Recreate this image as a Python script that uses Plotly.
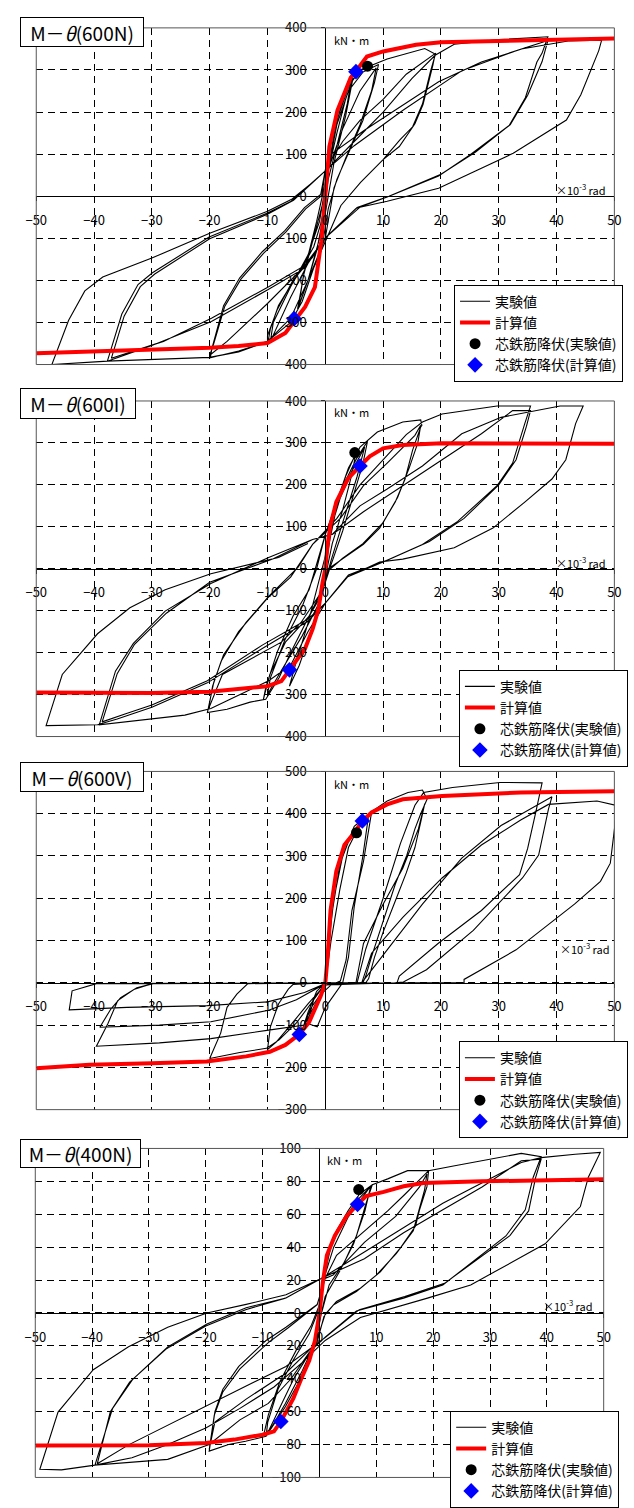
import plotly.graph_objects as go

W, H = 634, 1508
FONT = "Noto Sans CJK JP"

# ---------------- data ----------------
TITLES = ["M－<i>θ</i>(600N)", "M－<i>θ</i>(600I)", "M－<i>θ</i>(600V)", "M－<i>θ</i>(400N)"]
NAMES = ["実験値", "計算値", "芯鉄筋降伏(実験値)", "芯鉄筋降伏(計算値)"]
X_RANGE = (-50, 50)
X_DTICK = 10
Y_RANGES = [(-400, 400), (-400, 400), (-300, 500), (-100, 100)]
Y_DTICKS = [100, 100, 100, 20]

P1_EXP = [
    (0, 0), (0.5, 60), (1.5, 150), (3, 230), (4.6, 285),
    (3.8, 220), (2, 120), (0.5, 40), (-0.5, -60), (-1.5, -130), (-3, -200), (-4.6, -262),
    (-3.8, -190), (-2, -100), (-0.5, -20), (0.5, 60), (2, 150), (3.5, 230), (4.8, 282),
    (3.5, 190), (1.5, 80), (0, -40), (-1, -100), (-3, -200), (-4.8, -268),
    (-3.5, -170), (-1.5, -60), (0.3, 50),
    (2, 170), (4, 250), (6.5, 295), (9.2, 313),
    (8.5, 270), (6.5, 180), (4, 100), (2, 40), (0.5, -30), (-0.3, -99),
    (-2.2, -145), (-5.6, -200), (-8.3, -269), (-10, -331), (-10, -354),
    (-9.5, -315), (-8.1, -260), (-6.4, -221), (-4.2, -175), (-2, -120), (-0.8, -66), (-0.1, -22), (0.5, 63),
    (3, 160), (6, 250), (8.8, 305),
    (8, 250), (6, 170), (3.5, 90), (1.5, 20), (0, -99),
    (-3, -160), (-6, -240), (-9.5, -345),
    (-9, -300), (-6, -215), (-3, -140), (-1, -60), (0.5, 63),
    (2, 180), (4, 260), (6, 300), (10.7, 326), (17.2, 351), (19, 338),
    (18.6, 311), (16.9, 218), (15.5, 172), (12.8, 118), (10, 87), (6.1, 33), (2.7, -22), (0.5, -92),
    (-2, -170), (-4, -250), (-6, -300), (-10, -345), (-15, -368), (-19.9, -384),
    (-19.6, -361), (-17.6, -260), (-14.8, -194), (-10.9, -132), (-7, -82), (-3.6, -27), (-0.8, 4), (0, 63),
    (3, 130), (6, 180), (10, 230), (14, 290), (19.1, 340),
    (18.2, 297), (16.8, 219), (15.1, 165), (12.9, 134), (10, 87), (6.1, 33), (2.7, -22), (0.5, -92),
    (-3.6, -167), (-10, -255), (-17, -345), (-20, -378),
    (-19.4, -355), (-17.4, -262), (-14.6, -197), (-10.7, -136), (-6.8, -85), (-3.4, -30), (-0.6, 2), (0, 60),
    (5, 130), (10, 200), (15, 280), (19, 335), (22.3, 361), (30, 372), (38.5, 379),
    (37.5, 340), (36.6, 319), (34.6, 234), (31.8, 168), (25, 98), (19.6, 48), (10.7, -2), (5.3, -29), (0, -99),
    (-3, -200), (-6, -290), (-10, -345), (-15, -370), (-20, -383), (-30, -388), (-37.7, -392),
    (-35.2, -280), (-32.4, -210), (-29.9, -182), (-20.1, -97), (-10, -40), (-5.9, -12), (0, 60),
    (1.2, 102), (6.7, 156), (13.5, 218), (19.6, 272), (27, 319), (38.5, 370),
    (37.5, 320), (35, 240), (32, 170), (26, 105), (20, 52), (11, 0), (5.5, -27), (0, -99),
    (-3.6, -165), (-9.8, -215), (-19.7, -290), (-28, -345), (-37, -385),
    (-34.8, -285), (-32, -215), (-29.5, -185), (-20, -101), (-10, -43), (-5.5, -10), (0, 60),
    (5, 120), (13.5, 205), (23.7, 299), (33.9, 350), (42, 369), (47.8, 371),
    (47.3, 346), (44.2, 241), (41.7, 181), (32.5, 102), (19.6, 19), (10.7, -12), (6, -26), (0, -99),
    (-3.6, -171), (-9.8, -221), (-19.7, -298), (-30, -355), (-37.7, -392), (-47.3, -400),
    (-44.4, -295), (-41.6, -225), (-38.5, -192), (-30, -147), (-20, -88), (-10, -36), (-5.9, -8), (-4.5, 8), (-2, 35),
]
P1_CALC = [
    (-50, -373), (-40, -369), (-30, -365), (-20, -360), (-15, -356), (-10, -349), (-6.9, -325),
    (-5.2, -294), (-3.5, -263), (-1.8, -216), (-0.7, -107), (0, 0), (0.7, 118), (2.1, 204),
    (4.4, 282), (5.3, 297), (7.2, 332), (10, 344), (15.7, 360), (20, 366), (34, 371), (50, 375),
]
P1_YIELD_EXP = [(7.3, 309)]
P1_YIELD_CALC = [(5.3, 296), (-5.4, -291)]

P2_EXP = [
    (0, 0), (0.8, 70), (2, 150), (3.5, 220), (5.3, 276),
    (4.5, 220), (3, 140), (1.2, 60), (0, -20), (-1, -80), (-2.5, -150), (-4.5, -230), (-6.2, -280),
    (-5, -220), (-3, -130), (-1.5, -50), (0, 30), (1.5, 120), (3.5, 210), (5.5, 265), (7.3, 304),
    (6.5, 250), (5, 180), (3, 90), (1, 10), (-0.8, -66), (-2.8, -113), (-6.9, -175), (-9.6, -252), (-10.7, -311),
    (-10.3, -283), (-8.3, -198), (-5.6, -113), (-2.8, -50), (-1.5, 12), (0, 82),
    (2, 150), (4.5, 230), (6.8, 290),
    (5.5, 220), (3, 110), (1, 20), (-1, -80), (-4, -160), (-7.5, -240), (-10, -300),
    (-9.5, -260), (-7, -170), (-4, -90), (-1.5, 0), (0, 82),
    (2, 160), (4, 240), (6, 290), (9, 326), (13.4, 350), (16.5, 355), (16.7, 342),
    (16.5, 338), (15.1, 283), (13.8, 214), (12.1, 159), (9.4, 97), (6.6, 58), (3.3, 27), (0.5, 0), (-0.8, -58),
    (-2.8, -113), (-6, -200), (-8, -260), (-10.3, -311), (-13, -318), (-17, -335), (-20.4, -343),
    (-19.3, -271), (-17.6, -205), (-13.7, -128), (-9.8, -66), (-4.7, 4), (-2.2, 58),
    (2.6, 120), (6.6, 198), (10.7, 252), (15.5, 318), (16.5, 342),
    (16, 300), (14.5, 240), (12.5, 170), (10, 110), (6.5, 60), (3, 25), (0.5, -5), (-0.8, -58),
    (-4.2, -128), (-7.6, -175), (-13.7, -221), (-17.8, -252), (-20.2, -334),
    (-19.5, -280), (-18, -220), (-15, -150), (-10, -70), (-6, -20), (-2.2, 58),
    (2, 120), (6, 200), (10, 260), (14, 320), (16.8, 350), (20.2, 369), (29.7, 388), (35.5, 388),
    (34.5, 346), (32.4, 252), (29.7, 198), (22.9, 113), (16.8, 58), (10, 16), (3.9, -19), (0, -82),
    (-3, -150), (-6, -230), (-9.8, -267), (-19.8, -333), (-24.3, -349), (-39.1, -372),
    (-36.3, -244), (-33.2, -178), (-27.7, -101), (-19.8, -35), (-9.8, 27), (-2.2, 70),
    (1.2, 82), (6.6, 136), (13.4, 198), (20.2, 260), (27, 322), (32.4, 377), (35.5, 377),
    (34.8, 340), (33, 260), (30, 200), (24, 120), (18, 65), (11, 22), (4, -15), (0, -82),
    (-3, -120), (-10.9, -182), (-20.4, -267), (-30, -325), (-34.4, -345), (-38.6, -365),
    (-36, -250), (-33, -180), (-27.5, -106), (-20, -32), (-9, 24), (-2.2, 70),
    (1.2, 82), (6, 150), (10.7, 190), (16.8, 245), (23.6, 322), (30.4, 361), (40.6, 388), (44.6, 388),
    (43.3, 346), (41.6, 260), (39.2, 214), (34.5, 159), (29, 97), (22.3, 50), (13.4, 23), (9.4, 16), (3.9, -19), (0, -82),
    (-3, -125), (-10.9, -190), (-20.4, -272), (-30, -330), (-36, -358), (-39.4, -372), (-48.3, -374),
    (-45.5, -252), (-39.4, -155), (-33.8, -93), (-27.7, -50), (-19.8, -12), (-8.1, 27), (-3, 60),
]
P2_CALC = [
    (-50, -295), (-40, -296), (-30, -296), (-20, -293), (-10, -280), (-7.6, -268), (-6.2, -241),
    (-3.5, -190), (-2.2, -144), (-1.2, -97), (-0.5, -35), (0, 0), (0.4, 58), (0.9, 105), (1.9, 159),
    (3.9, 214), (6, 245), (7.7, 268), (10, 287), (13.4, 295), (20.2, 299), (35, 298), (50, 298),
]
P2_YIELD_EXP = [(5.1, 277)]
P2_YIELD_CALC = [(6, 245), (-6.2, -241)]

P3_EXP = [
    (0, 0), (0.5, 80), (1.5, 200), (3, 300), (5, 370), (8, 403),
    (6.6, 287), (4.6, 171), (3.6, 54), (2.6, 4), (1, -5), (-1, -30), (-2.5, -60), (-3.9, -108),
    (-3, -70), (-1.5, -20), (0, 0),
    (1, 100), (2.5, 220), (4, 320), (6, 375), (7.5, 398),
    (6.5, 300), (5, 180), (4, 60), (3, 0), (0, -58), (-1.4, -104), (-3.1, -96), (-2, -40), (0, 0),
    (1, 150), (2.5, 280), (5, 370), (8, 405), (10.7, 430), (14.3, 450), (16.8, 456), (17.6, 434),
    (16.5, 400), (15.5, 364), (14.1, 302), (12.1, 233), (9.4, 124), (8, 62), (7, 16), (6.5, 0),
    (0, -4), (-3, -50), (-6, -100), (-8.5, -140), (-10, -158),
    (-9.5, -104), (-8.1, -50), (-6.4, -15), (-5.6, -4), (0, 0), (5.3, 0),
    (6.6, 93), (10, 186), (13.4, 271), (16.1, 364), (17.2, 424),
    (16.5, 380), (15.5, 320), (14, 260), (12, 190), (10, 120), (8.5, 60), (7.5, 10), (7, 0),
    (0, -2), (-2, -40), (-5, -95), (-8, -135), (-10.2, -155), (-14.8, -165), (-20, -179),
    (-18.1, -119), (-17, -58), (-15.3, -27), (-13.4, -2), (0, 0), (5.5, 0),
    (7, 80), (10, 200), (13, 330), (15.5, 420), (17, 450), (22, 462), (30.2, 474), (37.5, 473),
    (36.4, 403), (35, 318), (33.6, 256), (27, 171), (19.5, 93), (12.8, 16), (12.4, 0),
    (0, -2), (-5, -40), (-9.8, -65), (-19.8, -92), (-28.7, -100), (-39, -105),
    (-37.1, -62), (-35.4, -35), (-32.6, -12), (-29.8, -2), (-15, -1), (0, 0), (6.3, 0),
    (8, 30), (10.7, 78), (16.8, 186), (23.6, 295), (30.4, 372), (39.2, 440),
    (38.6, 411), (36.9, 302), (34.1, 248), (25.6, 124), (17.5, 31), (13.5, 2), (12, 0),
    (0, -5), (-3.6, -100), (-9.8, -112), (-19.8, -132), (-28.7, -142), (-39.6, -150),
    (-37.6, -96), (-35.9, -42), (-33, -15), (-30, -2), (0, 0), (6.3, 0),
    (8, 70), (13.4, 155), (20.2, 248), (27, 326), (33.8, 385), (38.6, 422), (47, 430), (50.5, 419),
    (49.3, 283), (47.6, 240), (43.1, 186), (33, 78), (24, 8), (24, 0), (12, 0),
    (0, -2), (-3.6, -23), (-10, -45), (-20.4, -54), (-34.3, -58), (-44.3, -64),
    (-43.8, -19), (-39.6, -2), (-20, -1), (0, 0),
]
P3_CALC = [
    (-50, -202), (-40.8, -194), (-30, -190), (-20.5, -186), (-13.7, -174), (-9.6, -163),
    (-6.9, -147), (-4.5, -122), (-2.8, -93), (-0.8, -31), (0, 0), (0.4, 62), (0.9, 171),
    (1.9, 264), (3.3, 326), (5.3, 360), (6.3, 381), (8, 403), (10.7, 422), (13.4, 434),
    (20.2, 442), (33.8, 450), (50, 453),
]
P3_YIELD_EXP = [(5.4, 355)]
P3_YIELD_CALC = [(6.4, 383), (-4.5, -122)]

P4_EXP = [
    (0, 0), (0.6, 19), (1.5, 35), (3, 50), (5, 62), (7, 72), (9.3, 78),
    (8.2, 66.7), (6.5, 46.8), (4.4, 31), (1.7, 17), (0.3, -0.8), (-0.8, -20.6),
    (-1.8, -24.6), (-4.6, -40.5), (-7.3, -60.3), (-9.4, -75),
    (-9.1, -66.3), (-7.3, -46.4), (-4.6, -28.6), (-1.8, -12.7), (0, 3.2), (0.6, 19),
    (2.5, 40), (5, 58), (7.5, 70), (9, 77),
    (8, 62), (6, 42), (3.5, 25), (1, 10), (0, -5), (-1, -20),
    (-3, -35), (-6, -55), (-8.5, -70), (-9.8, -74),
    (-9, -62), (-7, -42), (-4, -22), (-1.5, -8), (0, 5), (0.6, 19),
    (2, 40), (4, 55), (6.5, 68), (9.3, 78), (12, 81.5), (15.5, 86.5), (19.2, 86.5),
    (18.9, 76.6), (17.6, 62.7), (16.9, 52.8), (14.1, 38.9), (10.7, 25), (7.2, 15), (3, 7), (1, -0.8), (-0.8, -20),
    (-3, -38), (-6, -57), (-9.4, -75), (-13, -78), (-16, -80), (-19.4, -84),
    (-18.4, -60), (-17, -46.4), (-14.2, -32.5), (-9.4, -16.7), (-5.9, -8.7), (-0.4, 5.2), (1, 21),
    (2.4, 23), (7.9, 42.9), (13.4, 58.7), (17.6, 76.6), (18.9, 84.5),
    (18.5, 75), (17.3, 60), (16.5, 50), (13.5, 36), (10, 23), (6.5, 13), (2.5, 5), (0.8, -2), (-0.6, -20),
    (-1.8, -22.6), (-5.9, -36.5), (-12.9, -52.4), (-18.4, -66.3), (-19.4, -83),
    (-18.5, -62), (-17, -48), (-14, -34), (-9, -18), (-5.5, -9), (-0.4, 5), (1, 21),
    (3, 35), (7.9, 50), (12, 62), (15, 72), (18, 82), (19.2, 86.5), (23.8, 89.5), (35.5, 97), (39, 95),
    (37.6, 82.5), (36.2, 62.7), (32.8, 46.8), (21.7, 17), (14.8, 9), (6.5, 1.2), (1, -14.7),
    (-1.8, -24), (-5, -40), (-9, -55), (-14, -65), (-19.4, -80), (-26.7, -89), (-39.5, -92.5),
    (-36.4, -58), (-32.9, -40.5), (-26.7, -20.6), (-19.8, -6.7), (-12.9, 3.2), (-5.9, 9.1), (0.3, 21),
    (7.9, 33), (14.8, 48.8), (21.7, 62.7), (28.6, 76.6), (35.5, 92.5), (39, 93.5),
    (38, 82), (36.8, 62), (33.5, 47), (22, 18), (15, 10), (7, 2), (1, -15),
    (-5.9, -32.5), (-12.9, -44.4), (-19.8, -56.3), (-26.7, -68.3), (-33.6, -80.2), (-39.1, -91.7),
    (-36.8, -60), (-33.4, -42), (-27, -22), (-20, -8), (-13, 2), (-6, 9), (0.3, 21),
    (7.9, 37), (21.7, 66.7), (35.5, 91.5), (39, 94.4), (45, 96.5), (49.4, 97.6),
    (47.3, 82.5), (45.9, 64.7), (39.7, 42), (26.6, 17), (19, 9), (7.2, -2.8), (1, -16.7),
    (-3, -30), (-8, -45), (-14, -58), (-20, -70), (-26.7, -80), (-33, -88), (-39.5, -92.5), (-45.4, -95.4), (-49.2, -95),
    (-46, -60.3), (-39.8, -34.5), (-33.6, -20.6), (-26.7, -8.7), (-19.8, 0), (-12.9, 5.2), (-5.9, 11), (0.3, 21),
]
P4_CALC = [
    (-50, -80.6), (-30, -80.4), (-20, -79), (-15, -77), (-10, -74), (-8, -72), (-6.8, -66),
    (-4.6, -52), (-3.2, -40), (-1.8, -29), (-0.8, -17), (0, 0), (0.6, 19), (1.3, 35), (2.7, 47),
    (4.8, 59), (6.7, 66), (8.2, 71), (11.3, 73.6), (14.8, 77), (18.3, 79), (28.6, 80), (50, 81.3),
]
P4_YIELD_EXP = [(6.9, 75)]
P4_YIELD_CALC = [(6.7, 66), (-6.8, -66)]

PANEL_DATA = [
    (P1_EXP, P1_CALC, P1_YIELD_EXP, P1_YIELD_CALC),
    (P2_EXP, P2_CALC, P2_YIELD_EXP, P2_YIELD_CALC),
    (P3_EXP, P3_CALC, P3_YIELD_EXP, P3_YIELD_CALC),
    (P4_EXP, P4_CALC, P4_YIELD_EXP, P4_YIELD_CALC),
]

# ---------------- layout (pixel geometry) ----------------
PLOT_BOX = [  # left, right, top, bottom in px
    (26, 621, 18.3, 362.7),
    (26, 621, 400, 743.3),
    (26, 621, 779, 1125),
    (25, 610, 1164.7, 1501.3),
]
TITLE_BOX = [(9, 7, 120, 26), (9, 387, 112, 27), (9, 769, 120, 26), (9, 1155, 117, 25)]
LEGEND_POS = [(456, 281), (461, 675), (461, 1055), (452, 1433)]
UNIT_POS = [(330, 31), (330, 411), (330, 792), (323, 1177)]
RAD_POS = [(614, 184), (614, 565), (619, 960), (601, 1325)]


def fx(p):
    return p / W


def fy(p):
    return 1 - p / H


def xy(pairs):
    return [p[0] for p in pairs], [p[1] for p in pairs]


fig = go.Figure()
layout = dict(
    width=W, height=H, margin=dict(l=0, r=0, t=0, b=0),
    paper_bgcolor="white", plot_bgcolor="white",
    font=dict(family=FONT, color="#000", size=12),
    showlegend=True,
)
annotations = []
shapes = []

for i in range(4):
    n = "" if i == 0 else str(i + 1)
    xa, ya = "x" + n, "y" + n
    left, right, top, bottom = PLOT_BOX[i]
    ymin, ymax = Y_RANGES[i]
    y0px = top + (ymax - 0) / (ymax - ymin) * (bottom - top)
    x0px = left + (0 - X_RANGE[0]) / (X_RANGE[1] - X_RANGE[0]) * (right - left)

    layout["xaxis" + n] = dict(
        domain=[fx(left), fx(right)], range=list(X_RANGE), dtick=X_DTICK, tick0=0,
        anchor="free", position=fy(y0px),
        showgrid=True, gridcolor="#000", gridwidth=1, griddash="7px,5px",
        zeroline=False, showline=True, linecolor="#000", linewidth=1,
        ticks="outside", ticklen=4, tickcolor="#000", ticklabelstandoff=8,
        tickfont=dict(size=13, family=FONT, color="#000"), fixedrange=True,
    )
    layout["yaxis" + n] = dict(
        domain=[fy(bottom), fy(top)], range=[ymin, ymax], dtick=Y_DTICKS[i], tick0=0,
        anchor="free", position=fx(x0px),
        showgrid=True, gridcolor="#000", gridwidth=1, griddash="7px,5px",
        zeroline=False, showline=True, linecolor="#000", linewidth=1,
        ticks="outside", ticklen=4, tickcolor="#000", ticklabelstandoff=12,
        tickfont=dict(size=13, family=FONT, color="#000"), fixedrange=True,
    )

    exp, calc, yexp, ycalc = PANEL_DATA[i]
    leg = "legend" + n
    ex, ey = xy(exp)
    fig.add_trace(go.Scatter(x=ex, y=ey, mode="lines", name=NAMES[0], xaxis=xa, yaxis=ya,
                             line=dict(color="#000", width=1.1), legend=leg))
    cx, cy = xy(calc)
    fig.add_trace(go.Scatter(x=cx, y=cy, mode="lines", name=NAMES[1], xaxis=xa, yaxis=ya,
                             line=dict(color="#ff0000", width=4), legend=leg))
    bx, by = xy(yexp)
    fig.add_trace(go.Scatter(x=bx, y=by, mode="markers", name=NAMES[2], xaxis=xa, yaxis=ya,
                             marker=dict(color="#000", size=11, symbol="circle"), legend=leg))
    dx, dy = xy(ycalc)
    fig.add_trace(go.Scatter(x=dx, y=dy, mode="markers", name=NAMES[3], xaxis=xa, yaxis=ya,
                             marker=dict(color="#0000ff", size=12, symbol="diamond"), legend=leg))

    lx, ly = LEGEND_POS[i]
    layout[leg] = dict(
        x=fx(lx), y=fy(ly), xanchor="left", yanchor="top",
        bgcolor="white", bordercolor="#000", borderwidth=1,
        font=dict(size=14, family=FONT, color="#000"), tracegroupgap=0, itemwidth=30,
    )

    shapes.append(dict(type="rect", xref=xa + " domain", yref=ya + " domain",
                       x0=0, x1=1, y0=0, y1=1, line=dict(color="#555", width=1), layer="above"))

    tx, ty, tw, th = TITLE_BOX[i]
    annotations.append(dict(
        text=TITLES[i], xref="paper", yref="paper", x=fx(tx), y=fy(ty),
        xanchor="left", yanchor="top", showarrow=False, width=tw, height=th,
        align="center", valign="middle", bgcolor="white", bordercolor="#000",
        borderwidth=1, borderpad=1, font=dict(size=19, family=FONT, color="#000"),
    ))
    ux, uy = UNIT_POS[i]
    annotations.append(dict(
        text="kN・m", xref="paper", yref="paper", x=fx(ux), y=fy(uy),
        xanchor="left", yanchor="middle", showarrow=False,
        font=dict(size=11, family=FONT, color="#000"),
    ))
    rx, ry = RAD_POS[i]
    annotations.append(dict(
        text="×10<sup>-3</sup> rad", xref="paper", yref="paper", x=fx(rx), y=fy(ry),
        xanchor="right", yanchor="middle", showarrow=False,
        font=dict(size=11, family=FONT, color="#000"),
    ))

layout["annotations"] = annotations
layout["shapes"] = shapes
fig.update_layout(**layout)
fig.write_html("out.html", post_script="document.body.style.margin='0';")
